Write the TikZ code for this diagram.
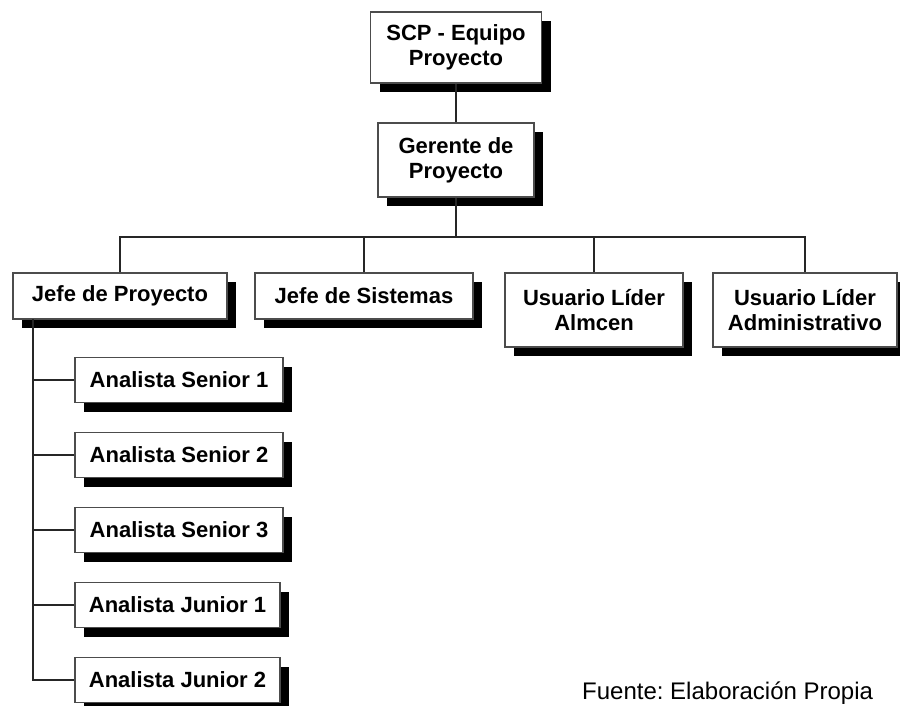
\documentclass[tikz,border=0pt]{standalone}
\usepackage{fontspec}
\setmainfont{Liberation Sans}
\usetikzlibrary{shadows}
\frenchspacing
\begin{document}
\begin{tikzpicture}[x=1pt,y=-1pt,
  orgbox/.style={draw=black!70, line width=1.3pt, fill=white, inner sep=0pt,
    align=center, font=\fontsize{22}{25}\selectfont\bfseries,
    general shadow={fill=black, shadow xshift=9pt, shadow yshift=-9pt}},
  link/.style={draw=black!85, line width=1.6pt}]
\useasboundingbox (0,0) rectangle (900,706);

% top of the chart
\node[orgbox, minimum width=171pt, minimum height=71pt] (scp) at (456,47.5) {SCP - Equipo\\Proyecto};
\node[orgbox, minimum width=156pt, minimum height=74pt] (ger) at (456,160) {Gerente de\\Proyecto};

% second level
\node[orgbox, minimum width=214pt, minimum height=46pt] (jp)  at (120,296) {Jefe de Proyecto};
\node[orgbox, minimum width=218pt, minimum height=46pt] (js)  at (364,296) {Jefe de Sistemas};
\node[orgbox, minimum width=178pt, minimum height=74pt] (ula) at (594,310) {Usuario Líder\\Almcen};
\node[orgbox, minimum width=184pt, minimum height=74pt] (uad) at (805,310) {Usuario Líder\\Administrativo};

% analysts under the project lead
\node[orgbox, minimum width=208pt, minimum height=45pt] (as1) at (179,380) {Analista Senior 1};
\node[orgbox, minimum width=208pt, minimum height=45pt] (as2) at (179,455) {Analista Senior 2};
\node[orgbox, minimum width=208pt, minimum height=45pt] (as3) at (179,530) {Analista Senior 3};
\node[orgbox, minimum width=205pt, minimum height=45pt] (aj1) at (177.5,605) {Analista Junior 1};
\node[orgbox, minimum width=205pt, minimum height=45pt] (aj2) at (177.5,680) {Analista Junior 2};

% connectors
\coordinate (bus) at (456,237);
\coordinate (spine) at (33,319);
\draw[link] (scp.south) -- (ger.north);
\draw[link] (ger.south) -- (bus);
\draw[link] (jp.north) |- (bus) -| (uad.north);
\draw[link] (js.north) -- (js.north |- bus);
\draw[link] (ula.north) -- (ula.north |- bus);
\draw[link] (spine) |- (aj2.west);
\draw[link] (as1.west) -- (as1.west -| spine);
\draw[link] (as2.west) -- (as2.west -| spine);
\draw[link] (as3.west) -- (as3.west -| spine);
\draw[link] (aj1.west) -- (aj1.west -| spine);

% source note
\node[anchor=base west, inner sep=0pt, font=\fontsize{24}{28}\selectfont] (src) at (582,699) {Fuente: Elaboración Propia};
\end{tikzpicture}
\end{document}
